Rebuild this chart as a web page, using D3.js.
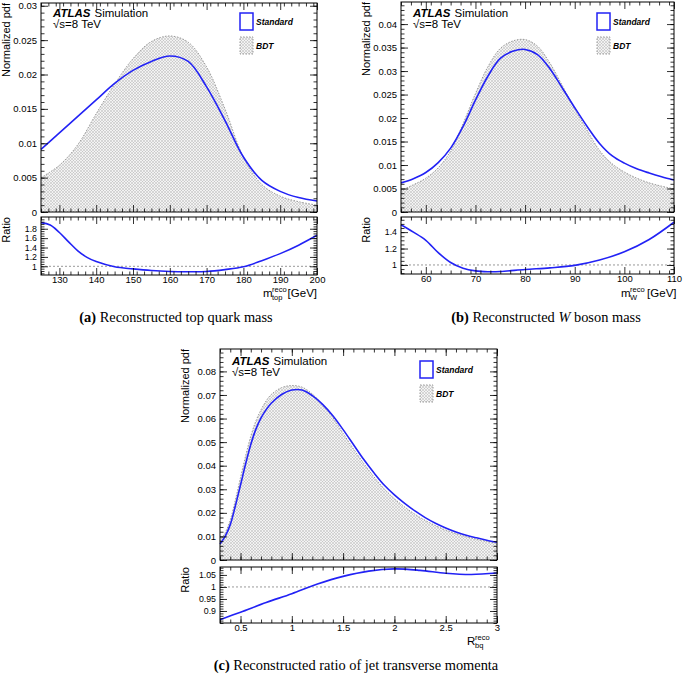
<!DOCTYPE html>
<html>
<head>
<meta charset="utf-8">
<script src="https://cdn.jsdelivr.net/npm/d3@7"></script>
<style>
  body { margin: 0; background: #fff; }
  svg { display: block; font-family: "Liberation Sans", Arial, sans-serif; }
  .caption { font-family: "Liberation Serif", "Times New Roman", serif; font-size: 14.4px; }
</style>
</head>
<body>
<svg id="chart" width="685" height="675"></svg>
<script>
// (a) reconstructed top quark mass
const topMass = [125, 130, 135, 140, 145, 150, 155, 160, 165, 170, 175, 180, 185, 190, 195, 200];
const topStandard = [0.0091, 0.0115, 0.0139, 0.0163, 0.0187, 0.0206, 0.0219, 0.0227, 0.0219, 0.0182, 0.0133, 0.0080, 0.0046, 0.0030, 0.0021, 0.0016];
const topBdt = [0.0050, 0.0068, 0.0098, 0.0143, 0.0186, 0.0223, 0.0248, 0.0256, 0.0247, 0.0211, 0.0150, 0.0080, 0.0040, 0.0023, 0.0015, 0.0010];
const topRatioMass = [125, 127.5, 130, 132.5, 135, 137.5, 140, 145, 150, 155, 160, 165, 170, 175, 180, 185, 190, 195, 200];
const topRatio = [1.93, 1.88, 1.72, 1.52, 1.33, 1.19, 1.10, 0.99, 0.945, 0.91, 0.89, 0.885, 0.89, 0.93, 0.99, 1.12, 1.27, 1.45, 1.66];
const topXTicks = [130, 140, 150, 160, 170, 180, 190, 200];
const topYTicks = [0, 0.005, 0.01, 0.015, 0.02, 0.025, 0.03];
const topRTicks = [1, 1.2, 1.4, 1.6, 1.8];

// (b) reconstructed W boson mass
const wMass = [55, 57.5, 60, 62.5, 65, 67.5, 70, 72.5, 75, 77.5, 80, 82.5, 85, 87.5, 90, 92.5, 95, 97.5, 100, 102.5, 105, 107.5, 110];
const wStandard = [0.0062, 0.0071, 0.0084, 0.0105, 0.0136, 0.0182, 0.0238, 0.0289, 0.0327, 0.0342, 0.0346, 0.0335, 0.0305, 0.0264, 0.0222, 0.0182, 0.0146, 0.0120, 0.0104, 0.0092, 0.0083, 0.0075, 0.0068];
const wBdt = [0.0046, 0.0058, 0.0072, 0.0094, 0.0130, 0.0188, 0.0252, 0.0309, 0.0348, 0.0364, 0.0367, 0.0353, 0.0317, 0.0269, 0.0220, 0.0174, 0.0131, 0.0103, 0.0085, 0.0072, 0.0062, 0.0055, 0.0049];
const wRatioMass = [55, 57.5, 60, 62.5, 65, 67.5, 70, 72.5, 75, 80, 85, 90, 95, 100, 105, 110];
const wRatio = [1.49, 1.40, 1.30, 1.15, 1.03, 0.96, 0.928, 0.918, 0.92, 0.945, 0.965, 0.995, 1.06, 1.16, 1.31, 1.52];
const wXTicks = [60, 70, 80, 90, 100, 110];
const wYTicks = [0, 0.005, 0.01, 0.015, 0.02, 0.025, 0.03, 0.035, 0.04];
const wRTicks = [1, 1.2, 1.4];

// (c) reconstructed ratio of jet transverse momenta
const rbq = [0.3, 0.35, 0.4, 0.45, 0.5, 0.55, 0.6, 0.65, 0.7, 0.75, 0.8, 0.9, 1.0, 1.1, 1.2, 1.3, 1.4, 1.5, 1.6, 1.7, 1.8, 1.9, 2.0, 2.1, 2.2, 2.3, 2.4, 2.5, 2.6, 2.7, 2.8, 2.9, 3.0];
const rbqStandard = [0.0068, 0.0100, 0.0150, 0.0230, 0.0318, 0.0408, 0.0490, 0.0555, 0.0603, 0.0638, 0.0665, 0.0702, 0.0721, 0.0721, 0.0697, 0.0660, 0.0612, 0.0553, 0.0490, 0.0427, 0.0370, 0.0318, 0.0276, 0.0240, 0.0208, 0.0180, 0.0156, 0.0136, 0.0119, 0.0105, 0.0094, 0.0084, 0.0075];
const rbqBdt = [0.0080, 0.0115, 0.0170, 0.0255, 0.0350, 0.0442, 0.0525, 0.0590, 0.0637, 0.0675, 0.0702, 0.0731, 0.0740, 0.0733, 0.0704, 0.0658, 0.0604, 0.0537, 0.0472, 0.0410, 0.0353, 0.0302, 0.0260, 0.0225, 0.0194, 0.0168, 0.0146, 0.0127, 0.0112, 0.0099, 0.0088, 0.0079, 0.0071];
const rbqRatioX = [0.3, 0.5, 0.75, 1.0, 1.25, 1.5, 1.75, 2.0, 2.25, 2.5, 2.75, 3.0];
const rbqRatio = [0.864, 0.895, 0.935, 0.972, 1.012, 1.044, 1.066, 1.075, 1.069, 1.057, 1.052, 1.058];
const rbqXTicks = [0.5, 1, 1.5, 2, 2.5, 3];
const rbqYTicks = [0, 0.01, 0.02, 0.03, 0.04, 0.05, 0.06, 0.07, 0.08];
const rbqRTicks = [0.9, 0.95, 1, 1.05];

const seriesNames = ["Standard", "BDT"];
const blue = "#2222f5";

const svg = d3.select("#chart");
const defs = svg.append("defs");
const hatch = defs.append("pattern")
  .attr("id", "hatch")
  .attr("patternUnits", "userSpaceOnUse")
  .attr("width", 3)
  .attr("height", 3);
hatch.append("rect").attr("width", 3).attr("height", 3).attr("fill", "#f3f3f3");
hatch.append("path")
  .attr("d", "M0,0L3,3M3,0L0,3M-1,2L1,4M2,-1L4,1M-1,1L1,-1M2,4L4,2")
  .attr("stroke", "#b4b4b4")
  .attr("stroke-width", 0.45);

const smooth = d3.curveCatmullRom.alpha(0.5);

class RatioPlot {
  constructor(cfg) {
    Object.assign(this, cfg);
    this.init();
  }

  init() {
    this.x = d3.scaleLinear().domain(this.xDomain).range([this.left, this.right]);
    this.y = d3.scaleLinear().domain(this.yDomain).range([this.mainBottom, this.mainTop]);
    this.r = d3.scaleLinear().domain(this.rDomain).range([this.ratioBottom, this.ratioTop]);
    this.g = svg.append("g");
    this.drawMain();
    this.drawRatio();
    this.drawFrame(this.y, this.mainTop, this.mainBottom, this.yTicks, this.yMinor, false, 9.5);
    this.drawFrame(this.r, this.ratioTop, this.ratioBottom, this.rTicks, this.rMinor, true, 8.8);
    this.drawLegend();
    this.drawText();
  }

  drawFrame(yScale, top, bottom, yMajor, yMinorStep, showX, ySize) {
    const g = this.g.append("g");
    const xMinor = d3.range(this.xDomain[0], this.xDomain[1] + 1e-9, this.xMinor);
    const yDom = yScale.domain();
    const yMinor = d3.range(Math.ceil(yDom[0] / yMinorStep) * yMinorStep, yDom[1], yMinorStep);
    const fmt = (d) => String(d);

    const axes = [
      [d3.axisBottom(this.x).tickValues(this.xTicks).tickSize(-7).tickPadding(1.5)
        .tickFormat(showX ? fmt : ""), `translate(0,${bottom})`, 9.5],
      [d3.axisBottom(this.x).tickValues(xMinor).tickSize(-3.5).tickFormat(""), `translate(0,${bottom})`, 10],
      [d3.axisTop(this.x).tickValues(this.xTicks).tickSize(-7).tickFormat(""), `translate(0,${top})`, 10],
      [d3.axisTop(this.x).tickValues(xMinor).tickSize(-3.5).tickFormat(""), `translate(0,${top})`, 10],
      [d3.axisLeft(yScale).tickValues(yMajor).tickSize(-7).tickPadding(4).tickFormat(fmt), `translate(${this.left},0)`, ySize],
      [d3.axisLeft(yScale).tickValues(yMinor).tickSize(-3.5).tickFormat(""), `translate(${this.left},0)`, 10],
      [d3.axisRight(yScale).tickValues(yMajor).tickSize(-7).tickFormat(""), `translate(${this.right},0)`, 10],
      [d3.axisRight(yScale).tickValues(yMinor).tickSize(-3.5).tickFormat(""), `translate(${this.right},0)`, 10],
    ];
    axes.forEach(([axis, tr, size]) => {
      const a = g.append("g").attr("transform", tr).call(axis);
      a.select(".domain").remove();
      a.attr("font-family", null).attr("font-size", size);
      a.selectAll("line").attr("stroke", "#000").attr("stroke-width", 0.8);
      a.selectAll("text").attr("fill", "#000");
    });

    g.append("rect")
      .attr("x", this.left)
      .attr("y", top)
      .attr("width", this.right - this.left)
      .attr("height", bottom - top)
      .attr("fill", "none")
      .attr("stroke", "#000")
      .attr("stroke-width", 1);
  }

  drawMain() {
    const bdt = d3.zip(this.xs, this.bdt);
    const std = d3.zip(this.xs, this.standard);
    const area = d3.area()
      .x((d) => this.x(d[0]))
      .y0(this.y(0))
      .y1((d) => this.y(d[1]))
      .curve(smooth);
    const line = d3.line()
      .x((d) => this.x(d[0]))
      .y((d) => this.y(d[1]))
      .curve(smooth);

    this.g.append("path").attr("d", area(bdt)).attr("fill", "url(#hatch)");
    this.g.append("path")
      .attr("d", line(bdt))
      .attr("fill", "none")
      .attr("stroke", "#999")
      .attr("stroke-width", 1)
      .attr("stroke-dasharray", "1.5,1.5");
    this.g.append("path")
      .attr("d", line(std))
      .attr("fill", "none")
      .attr("stroke", blue)
      .attr("stroke-width", 1.6);
  }

  drawLegend() {
    const lx = this.right - 77;
    const ly = this.mainTop + this.legendDy;
    const lg = this.g.append("g");
    lg.append("rect")
      .attr("x", lx).attr("y", ly).attr("width", 13).attr("height", 17)
      .attr("fill", "none").attr("stroke", blue).attr("stroke-width", 1.5);
    lg.append("rect")
      .attr("x", lx).attr("y", ly + 24).attr("width", 13).attr("height", 17)
      .attr("fill", "url(#hatch)").attr("stroke", "#999").attr("stroke-width", 1)
      .attr("stroke-dasharray", "1.5,1.5");
    lg.selectAll("text")
      .data(seriesNames)
      .join("text")
      .attr("x", lx + 16)
      .attr("y", (d, i) => ly + 11.5 + i * 24)
      .attr("font-size", 8.5)
      .attr("font-weight", "bold")
      .attr("font-style", "italic")
      .text((d) => d);
  }

  drawRatio() {
    const data = d3.zip(this.ratioX, this.ratio);
    this.g.append("line")
      .attr("x1", this.left).attr("x2", this.right)
      .attr("y1", this.r(1)).attr("y2", this.r(1))
      .attr("stroke", "#999").attr("stroke-width", 1)
      .attr("stroke-dasharray", "2,2");
    const line = d3.line()
      .x((d) => this.x(d[0]))
      .y((d) => this.r(d[1]))
      .curve(smooth);
    this.g.append("path")
      .attr("d", line(data))
      .attr("fill", "none")
      .attr("stroke", blue)
      .attr("stroke-width", 1.6);
  }

  drawText() {
    const g = this.g;
    const ax = this.left + 12;
    const ay = this.mainTop + this.atlasDy;
    const atlas = g.append("text").attr("x", ax).attr("y", ay).attr("font-size", 11.5);
    atlas.append("tspan").attr("font-weight", "bold").attr("font-style", "italic").text("ATLAS");
    atlas.append("tspan").attr("dx", 4).text("Simulation");
    g.append("text").attr("x", ax).attr("y", ay + 11).attr("font-size", 11.5).text("\u221As=8 TeV");

    g.append("text")
      .attr("transform", `translate(${this.left - 31},${this.mainTop}) rotate(-90)`)
      .attr("text-anchor", "end")
      .attr("font-size", 11)
      .text("Normalized pdf");
    g.append("text")
      .attr("transform", `translate(${this.left - 31},${this.ratioTop}) rotate(-90)`)
      .attr("text-anchor", "end")
      .attr("font-size", 11)
      .text("Ratio");

    // x title with stacked super/subscript
    const t = this.xTitle;
    const tx = this.right - t.offset;
    const ty = this.ratioBottom + t.dy;
    g.append("text").attr("x", tx).attr("y", ty).attr("font-size", 11.5).text(t.base);
    g.append("text").attr("x", tx + t.baseW).attr("y", ty - 5).attr("font-size", 7.5).text("reco");
    g.append("text").attr("x", tx + t.baseW).attr("y", ty + 3).attr("font-size", 7.5).text(t.sub);
    if (t.unit) {
      g.append("text").attr("x", this.right + t.unitEnd).attr("y", ty)
        .attr("text-anchor", "end").attr("font-size", 11.5).text(t.unit);
    }

    const cap = g.append("text")
      .attr("class", "caption")
      .attr("x", this.capX)
      .attr("y", this.capY)
      .attr("text-anchor", "middle");
    this.caption.forEach((p) => {
      cap.append("tspan")
        .attr("font-weight", p.bold ? "bold" : null)
        .attr("font-style", p.italic ? "italic" : null)
        .text(p.text);
    });
  }
}

new RatioPlot({
  left: 41, right: 317, mainTop: 3, mainBottom: 212, ratioTop: 217, ratioBottom: 275,
  xDomain: [125, 200], yDomain: [0, 0.0304], rDomain: [0.815, 2.05],
  xs: topMass, standard: topStandard, bdt: topBdt, ratioX: topRatioMass, ratio: topRatio,
  xTicks: topXTicks, xMinor: 2, yTicks: topYTicks, yMinor: 0.001, rTicks: topRTicks, rMinor: 0.05,
  legendDy: 10, atlasDy: 14,
  xTitle: { base: "m", sub: "top", offset: 54, baseW: 9, unit: "[GeV]", unitEnd: 0, dy: 22 },
  caption: [{ text: "(a)", bold: true }, { text: " Reconstructed top quark mass" }],
  capX: 176, capY: 322,
});

new RatioPlot({
  left: 401, right: 674, mainTop: 2, mainBottom: 212, ratioTop: 217, ratioBottom: 274,
  xDomain: [55, 110], yDomain: [0, 0.0447], rDomain: [0.89, 1.584],
  xs: wMass, standard: wStandard, bdt: wBdt, ratioX: wRatioMass, ratio: wRatio,
  xTicks: wXTicks, xMinor: 2, yTicks: wYTicks, yMinor: 0.001, rTicks: wRTicks, rMinor: 0.05,
  legendDy: 11, atlasDy: 15,
  xTitle: { base: "m", sub: "W", offset: 53, baseW: 9, unit: "[GeV]", unitEnd: 2.5, dy: 23 },
  caption: [{ text: "(b)", bold: true }, { text: " Reconstructed " }, { text: "W", italic: true }, { text: " boson mass" }],
  capX: 546, capY: 322,
});

new RatioPlot({
  left: 220, right: 497, mainTop: 349, mainBottom: 560, ratioTop: 567, ratioBottom: 623,
  xDomain: [0.3, 3], yDomain: [0, 0.0895], rDomain: [0.85, 1.083],
  xs: rbq, standard: rbqStandard, bdt: rbqBdt, ratioX: rbqRatioX, ratio: rbqRatio,
  xTicks: rbqXTicks, xMinor: 0.1, yTicks: rbqYTicks, yMinor: 0.002, rTicks: rbqRTicks, rMinor: 0.01,
  legendDy: 12, atlasDy: 16,
  xTitle: { base: "R", sub: "bq", offset: 30, baseW: 8, unit: null, dy: 22 },
  caption: [{ text: "(c)", bold: true }, { text: " Reconstructed ratio of jet transverse momenta" }],
  capX: 356, capY: 670,
});
</script>
</body>
</html>
